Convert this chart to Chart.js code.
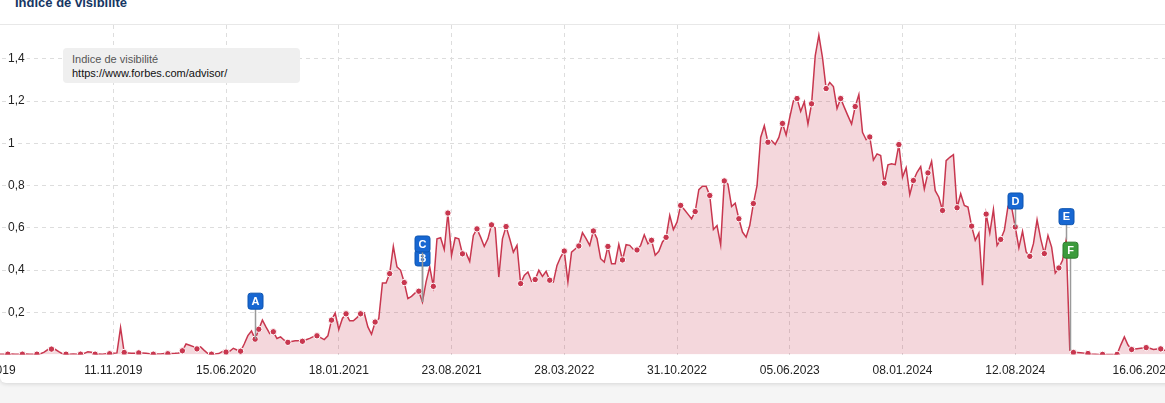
<!DOCTYPE html>
<html>
<head>
<meta charset="utf-8">
<script src="https://cdn.jsdelivr.net/npm/chart.js"></script>
<style>
  html, body { margin: 0; padding: 0; }
  body { width: 1165px; height: 403px; overflow: hidden; position: relative; background: #f5f5f5; font-family: "Liberation Sans", Arial, sans-serif; }
  #card { position: absolute; left: 0; top: -10px; width: 1220px; height: 393px; background: #fff; border-radius: 6px; box-shadow: 0 1px 4px rgba(0,0,0,0.13); }
  #title { position: absolute; left: 15px; top: -5px; font-size: 13px; line-height: 16px; font-weight: bold; color: #163663; }
  #rule { position: absolute; left: 0; top: 24px; width: 1165px; height: 1px; background: #e8e8e8; }
  #chart { position: absolute; left: -14px; top: 25px; }
  #legend { position: absolute; left: 63px; top: 48px; width: 237px; height: 35px; box-sizing: border-box; padding: 4px 0 0 9px; background: #efefef; border-radius: 4px; font-size: 11px; line-height: 14px; }
  #legend .name { color: #555; }
  #legend .url { color: #111; }
</style>
</head>
<body>
<div id="card"></div>
<div id="title">Indice de visibilité</div>
<div id="rule"></div>
<canvas id="chart" width="1182" height="362"></canvas>
<div id="legend"><div class="name">Indice de visibilité</div><div class="url">https://www.forbes.com/advisor/</div></div>

<script>
// weekly values, first week = 11.03.2019
var visibility = [
    0.002, 0.002, 0.003, 0.002, 0.002, 0.002, 0.002, 0.003, 0.002, 0.002,
    0.002, 0.003, 0.002, 0.002, 0.002, 0.004, 0.012, 0.024, 0.026, 0.025,
    0.014, 0.004, 0.002, 0.002, 0.003, 0.002, 0.002, 0.006, 0.013, 0.011,
    0.002, 0.003, 0.002, 0.004, 0.004, 0.006, 0.008, 0.128, 0.010, 0.008,
    0.006, 0.006, 0.008, 0.007, 0.006, 0.004, 0.002, 0.003, 0.003, 0.005,
    0.004, 0.005, 0.006, 0.008, 0.018, 0.050, 0.044, 0.038, 0.027, 0.036,
    0.020, 0.005, 0.002, 0.003, 0.005, 0.015, 0.012, 0.016, 0.030, 0.022,
    0.016, 0.050, 0.090, 0.112, 0.073, 0.120, 0.163, 0.130, 0.100, 0.108,
    0.076, 0.084, 0.068, 0.058, 0.062, 0.065, 0.065, 0.063, 0.070, 0.077,
    0.085, 0.089, 0.080, 0.071, 0.089, 0.163, 0.197, 0.119, 0.171, 0.193,
    0.160, 0.160, 0.175, 0.193, 0.197, 0.131, 0.096, 0.154, 0.170, 0.339,
    0.339, 0.383, 0.512, 0.415, 0.399, 0.341, 0.265, 0.276, 0.292, 0.300,
    0.249, 0.344, 0.415, 0.323, 0.548, 0.553, 0.497, 0.670, 0.470, 0.553,
    0.548, 0.477, 0.480, 0.441, 0.564, 0.595, 0.556, 0.512, 0.548, 0.614,
    0.600, 0.367, 0.548, 0.606, 0.548, 0.485, 0.517, 0.336, 0.375, 0.391,
    0.347, 0.355, 0.399, 0.370, 0.394, 0.352, 0.344, 0.422, 0.462, 0.490,
    0.344, 0.485, 0.500, 0.514, 0.577, 0.549, 0.517, 0.585, 0.549, 0.454,
    0.438, 0.512, 0.430, 0.430, 0.522, 0.448, 0.520, 0.517, 0.498, 0.495,
    0.517, 0.567, 0.525, 0.541, 0.470, 0.489, 0.533, 0.555, 0.659, 0.592,
    0.627, 0.706, 0.687, 0.665, 0.643, 0.677, 0.781, 0.797, 0.797, 0.753,
    0.592, 0.611, 0.520, 0.822, 0.807, 0.701, 0.717, 0.643, 0.580, 0.556,
    0.611, 0.715, 0.800, 1.028, 1.083, 1.005, 1.013, 0.995, 1.028, 1.094,
    1.039, 1.123, 1.201, 1.212, 1.151, 1.196, 1.091, 1.187, 1.414, 1.512,
    1.406, 1.259, 1.288, 1.269, 1.165, 1.212, 1.170, 1.130, 1.091, 1.174,
    1.231, 1.052, 1.017, 1.030, 0.921, 0.950, 0.942, 0.811, 0.898, 0.903,
    0.899, 0.994, 0.840, 0.884, 0.757, 0.824, 0.863, 0.890, 0.784, 0.860,
    0.915, 0.776, 0.745, 0.682, 0.918, 0.934, 0.946, 0.695, 0.761, 0.706,
    0.698, 0.608, 0.541, 0.575, 0.328, 0.665, 0.575, 0.687, 0.517, 0.545,
    0.588, 0.701, 0.698, 0.604, 0.505, 0.583, 0.486, 0.465, 0.525, 0.638,
    0.548, 0.478, 0.564, 0.509, 0.386, 0.410, 0.446, 0.544, 0.021, 0.010,
    0.010, 0.009, 0.007, 0.005, 0.003, 0.002, 0.001, 0.001, 0.001, 0.001,
    0.001, 0.001, 0.045, 0.084, 0.045, 0.024, 0.027, 0.029, 0.031, 0.033,
    0.030, 0.024, 0.026, 0.027, 0.021, 0.022
];

// x tick labels and the week they sit on
var tickIndex = [0, 35, 66, 97, 128, 159, 190, 221, 252, 283, 318];
var tickText = ['11.03.2019', '11.11.2019', '15.06.2020', '18.01.2021', '23.08.2021', '28.03.2022',
                '31.10.2022', '05.06.2023', '08.01.2024', '12.08.2024', '16.06.2025'];
var gridIndex = [35, 66, 97, 128, 159, 190, 221, 252, 283];

// y axis
var yMax = 1.56;
var yStep = 0.2;

// event flags
var flagLetters = ['A', 'B', 'C', 'D', 'E', 'F'];
var flagIndex = [74, 120, 120, 283, 297, 298];

var pad2 = function (n) { return (n < 10 ? '0' : '') + n; };
var weeks = visibility.map(function (v, i) {
    var d = new Date(2019, 2, 11 + 7 * i);
    return pad2(d.getDate()) + '.' + pad2(d.getMonth() + 1) + '.' + d.getFullYear();
});

var lineRed = '#c8374f';
var fillRed = 'rgba(200, 55, 80, 0.2)';
var gridGrey = '#dddddd';

// flag drawing (lift = px between point and flag bottom)
var flagLift = [30, 36, 50, 18, 15, 92];
var flagFill = ['#1767d2', '#1767d2', '#1767d2', '#1767d2', '#1767d2', '#3c9b3c'];
var flagEdge = ['#0e55b0', '#0e55b0', '#0e55b0', '#0e55b0', '#0e55b0', '#2b7c2b'];

var flagPlugin = {
    id: 'flags',
    afterDatasetsDraw: function (chart) {
        var ctx = chart.ctx;
        var xs = chart.scales.x, ys = chart.scales.y;
        flagLetters.forEach(function (letter, k) {
            var i = flagIndex[k];
            var x = Math.round(xs.getPixelForValue(i)) + 0.5;
            var y = ys.getPixelForValue(visibility[i]);
            var bottom = y - flagLift[k];
            var w = 15, h = 16;
            ctx.save();
            ctx.strokeStyle = '#9a9a9a';
            ctx.lineWidth = 1.5;
            ctx.beginPath();
            ctx.moveTo(x, y);
            ctx.lineTo(x, bottom);
            ctx.stroke();
            ctx.beginPath();
            ctx.roundRect(x - w / 2, bottom - h, w, h, 2.5);
            ctx.fillStyle = flagFill[k];
            ctx.fill();
            ctx.strokeStyle = flagEdge[k];
            ctx.lineWidth = 1;
            ctx.stroke();
            ctx.fillStyle = '#fff';
            ctx.font = 'bold 11px "Liberation Sans", Arial, sans-serif';
            ctx.textAlign = 'center';
            ctx.textBaseline = 'middle';
            ctx.fillText(letter, x, bottom - h / 2 + 0.5);
            ctx.restore();
        });
    }
};

var handleChart = function () {
    var ctx = document.getElementById('chart').getContext('2d');
    new Chart(ctx, {
        type: 'line',
        data: {
            labels: weeks,
            datasets: [{
                label: 'Indice de visibilité',
                data: visibility,
                borderColor: lineRed,
                backgroundColor: fillRed,
                borderWidth: 1.5,
                fill: 'origin',
                tension: 0,
                pointRadius: function (c) {
                    var i = c.dataIndex;
                    var on = i <= 74 ? i % 4 === 2 : i % 4 === 3;
                    return on ? 3.2 : 0;
                },
                pointBackgroundColor: lineRed,
                pointBorderColor: '#ffffff',
                pointBorderWidth: 1
            }]
        },
        options: {
            responsive: false,
            animation: false,
            events: [],
            layout: { padding: 0 },
            plugins: { legend: { display: false }, tooltip: { enabled: false } },
            scales: {
                x: {
                    type: 'category',
                    border: { display: false, dash: [4, 4] },
                    grid: {
                        drawTicks: false,
                        color: function (c) {
                            var v = c.tick ? c.tick.value : -1;
                            return gridIndex.indexOf(v) >= 0 ? gridGrey : 'transparent';
                        }
                    },
                    ticks: {
                        autoSkip: false,
                        maxRotation: 0,
                        padding: 9,
                        color: '#222',
                        font: { family: '"Liberation Sans", Arial, sans-serif', size: 12 },
                        callback: function (val, idx) {
                            var k = tickIndex.indexOf(val);
                            return k >= 0 ? tickText[k] : null;
                        }
                    },
                    afterFit: function (s) { s.paddingLeft = 0; s.paddingRight = 0; }
                },
                y: {
                    min: 0,
                    max: yMax,
                    border: { display: false, dash: [4, 4] },
                    grid: { drawTicks: false, color: gridGrey },
                    ticks: {
                        stepSize: yStep,
                        mirror: true,
                        padding: 22,
                        color: '#222',
                        font: { family: '"Liberation Sans", Arial, sans-serif', size: 12 },
                        showLabelBackdrop: true,
                        backdropColor: '#ffffff',
                        backdropPadding: { x: 2, y: 0 },
                        callback: function (v) {
                            if (v === 0) return null;
                            return (Math.round(v * 10) / 10).toString().replace('.', ',');
                        }
                    },
                    afterBuildTicks: function (s) {
                        s.ticks = s.ticks.filter(function (t) {
                            var q = t.value / yStep;
                            return Math.abs(q - Math.round(q)) < 1e-6;
                        });
                    },
                    afterFit: function (s) { s.width = 0; s.paddingTop = 0; s.paddingBottom = 0; }
                }
            }
        },
        plugins: [flagPlugin]
    });
};

handleChart();
</script>
</body>
</html>
